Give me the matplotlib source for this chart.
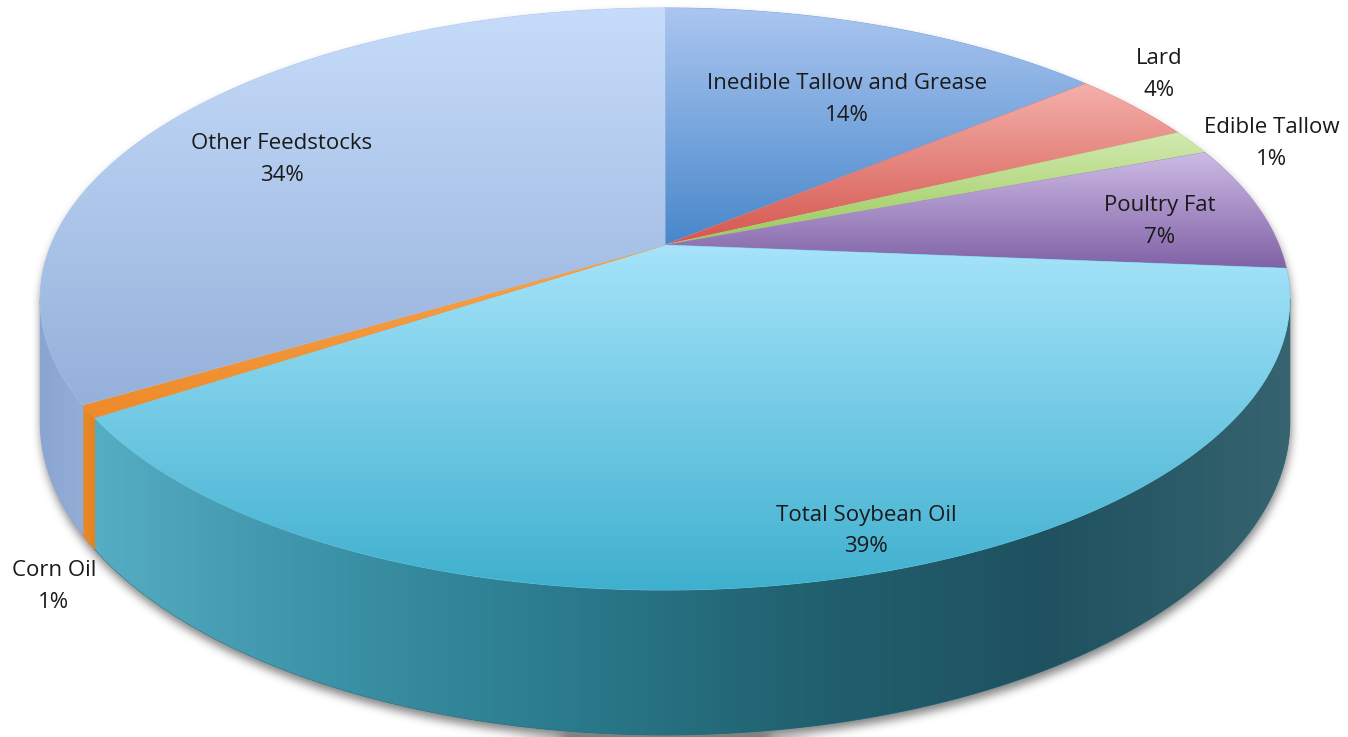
import numpy as np
import matplotlib
matplotlib.use("Agg")
import matplotlib.pyplot as plt
from matplotlib.patches import Polygon
from matplotlib.path import Path
from matplotlib.colors import LinearSegmentedColormap

# --- data -------------------------------------------------------------
labels = ["Inedible Tallow and Grease", "Lard", "Edible Tallow", "Poultry Fat",
          "Total Soybean Oil", "Corn Oil", "Other Feedstocks"]
shares = [13.9, 4.0, 1.4, 7.0, 39.4, 0.7, 33.6]

# --- style ------------------------------------------------------------
top_colors = [["#abc6f0", "#4887cb"],
              ["#f5b0ab", "#d4564e"],
              ["#d3eab0", "#98c95a"],
              ["#cdbbe4", "#8062a6"],
              ["#a6e4fa", "#3fb0cf"],
              ["#f6a550", "#ee8a2a"],
              ["#c6dcfa", "#95b0da"]]
side_colors = [["#4887cb", "#3d74b0"],
               ["#d4564e", "#b8453f"],
               ["#98c95a", "#82b34a"],
               ["#8062a6", "#6c5290"],
               ["#55adc3", "#3b91a6", "#2a7a8c", "#21606f", "#1f5160", "#36636f"],
               ["#ea8b2b", "#e2821f"],
               ["#8aa5d0", "#93aed6"]]
label_pos = [(847, 99), (1159, 74), (1272, 143), (1160, 221),
             (866, 531), (54, 587), (282, 159)]

W, H = 1348, 737
cx, cy = 665, 245        # apex of the pie on screen
A, B = 614, 281          # radii of the projected disc
D = 5.39                 # perspective distance
depth = 118              # thickness of the pie
vis_lo, vis_hi = -169.3, -10.7   # front rim that shows the side wall


def project(theta, drop=0.0):
    t = np.radians(theta)
    X, Z = np.cos(t), np.sin(t)
    s = D / (D + Z)
    return np.column_stack([cx + A * X * s, cy - B * Z * s + drop * s])


def gradient_patch(ax, verts, colors, vertical=True, zorder=1):
    cmap = LinearSegmentedColormap.from_list("g", colors)
    mid = cmap(0.5)
    poly = Polygon(verts, closed=True, facecolor=mid, edgecolor=mid, lw=0.6, zorder=zorder)
    ax.add_patch(poly)
    x0, y0 = verts.min(0)
    x1, y1 = verts.max(0)
    ramp = np.linspace(0, 1, 256)
    img = ramp.reshape(-1, 1) if vertical else ramp.reshape(1, -1)
    im = ax.imshow(img, cmap=cmap, extent=(x0, x1, y1, y0), aspect="auto",
                   interpolation="bilinear", zorder=zorder)
    im.set_clip_path(poly)


def blur1d(a, r, axis):
    a = np.moveaxis(a, axis, -1)
    pad = np.pad(a, [(0, 0), (r + 1, r)], mode="edge")
    c = np.cumsum(pad, axis=-1)
    out = (c[..., 2 * r + 1:] - c[..., :-2 * r - 1]) / (2 * r + 1)
    return np.moveaxis(out, -1, axis)


fig = plt.figure(figsize=(W / 100, H / 100), dpi=100)
ax = fig.add_axes([0, 0, 1, 1])
ax.axis("off")

# soft shadow under the pie
outline = np.vstack([project(np.linspace(vis_hi, 360 + vis_lo, 400)),
                     project(np.linspace(360 + vis_lo, 360 + vis_hi, 300), depth)])
gx, gy = np.meshgrid(np.arange(W) + 0.5, np.arange(H) + 0.5)
mask = Path(outline + [1, 6]).contains_points(
    np.column_stack([gx.ravel(), gy.ravel()])).reshape(H, W).astype(float)
for _ in range(3):
    mask = blur1d(blur1d(mask, 4, 0), 4, 1)
shadow = np.zeros((H, W, 4))
shadow[..., :3] = 0.3
shadow[..., 3] = mask * 0.7
ax.imshow(shadow, extent=(0, W, H, 0), aspect="auto", zorder=0)

# slice angles, clockwise from 12 o'clock
angles = 3.6 * np.array(shares)
starts = 90 - np.concatenate([[0], np.cumsum(angles)[:-1]])
ends = starts - angles

# side walls
for i in range(len(shares)):
    a0, a1 = max(ends[i], vis_lo), min(starts[i], vis_hi)
    if a1 <= a0:
        continue
    n = max(int((a1 - a0) * 3), 3)
    th = np.linspace(a1, a0, n)
    verts = np.vstack([project(th), project(th[::-1], depth)])
    gradient_patch(ax, verts, side_colors[i], vertical=False, zorder=2)

# top faces
for i in range(len(shares)):
    n = max(int(angles[i] * 3), 3)
    th = np.linspace(starts[i], ends[i], n)
    verts = np.vstack([[cx, cy], project(th)])
    gradient_patch(ax, verts, top_colors[i], vertical=True, zorder=3)

# data labels
for i, name in enumerate(labels):
    x, y = label_pos[i]
    ax.text(x, y - 16, name, ha="center", va="center", fontsize=16,
            family="Open Sans", color="#1a1a1a", zorder=5)
    ax.text(x, y + 16, f"{round(shares[i])}%", ha="center", va="center",
            fontsize=16, family="Open Sans", color="#1a1a1a", zorder=5)

ax.set_xlim(0, W)
ax.set_ylim(H, 0)
fig.savefig("out.png", dpi=100)
